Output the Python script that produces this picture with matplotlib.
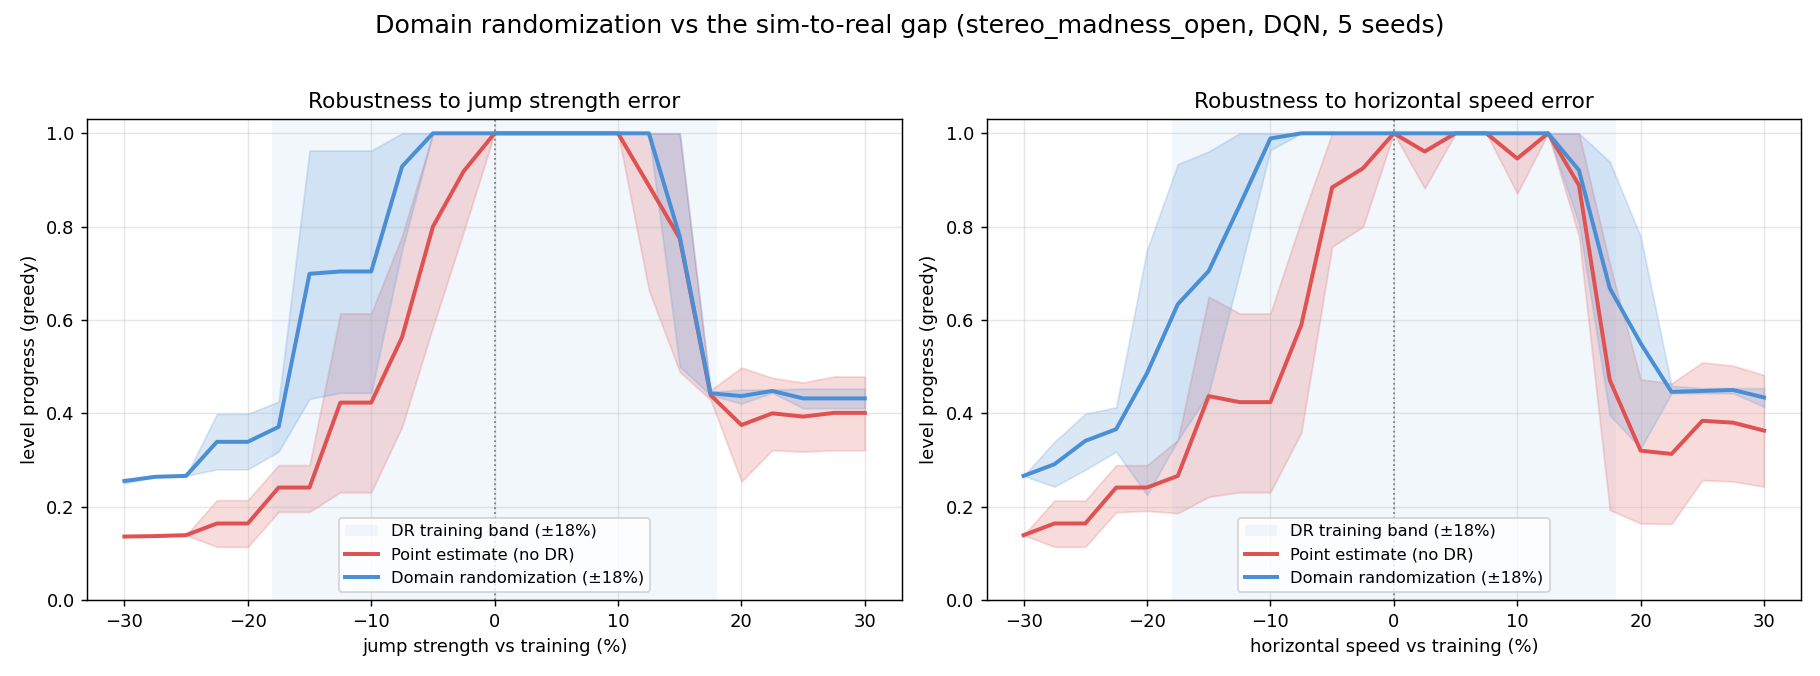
import matplotlib.pyplot as plt
import numpy as np

x = np.arange(-30, 30.1, 2.5)

# jump strength panel
jump_pt = [0.136, 0.137, 0.139, 0.164, 0.164, 0.241, 0.241, 0.423, 0.423, 0.563, 0.80, 0.919, 1.0,
           1.0, 1.0, 1.0, 1.0, 0.888, 0.775, 0.439, 0.375, 0.40, 0.393, 0.401, 0.401]
jump_pt_lo = [0.136, 0.137, 0.139, 0.114, 0.114, 0.189, 0.189, 0.231, 0.231, 0.371, 0.585, 0.79, 1.0,
              1.0, 1.0, 1.0, 1.0, 0.664, 0.489, 0.429, 0.254, 0.321, 0.318, 0.321, 0.321]
jump_pt_hi = [0.136, 0.137, 0.139, 0.214, 0.214, 0.289, 0.289, 0.614, 0.614, 0.78, 1.0, 1.0, 1.0,
              1.0, 1.0, 1.0, 1.0, 1.0, 1.0, 0.45, 0.498, 0.476, 0.466, 0.479, 0.479]
jump_dr = [0.255, 0.264, 0.266, 0.339, 0.339, 0.371, 0.699, 0.704, 0.704, 0.929, 1.0, 1.0, 1.0,
           1.0, 1.0, 1.0, 1.0, 1.0, 0.779, 0.443, 0.437, 0.448, 0.432, 0.432, 0.432]
jump_dr_lo = [0.25, 0.264, 0.266, 0.28, 0.28, 0.318, 0.431, 0.444, 0.444, 0.75, 1.0, 1.0, 1.0,
              1.0, 1.0, 1.0, 1.0, 1.0, 0.50, 0.439, 0.421, 0.444, 0.411, 0.411, 0.411]
jump_dr_hi = [0.259, 0.264, 0.266, 0.399, 0.399, 0.425, 0.963, 0.963, 0.963, 1.0, 1.0, 1.0, 1.0,
              1.0, 1.0, 1.0, 1.0, 1.0, 1.0, 0.446, 0.451, 0.451, 0.453, 0.453, 0.453]

# horizontal speed panel
speed_pt = [0.139, 0.164, 0.164, 0.241, 0.241, 0.266, 0.437, 0.424, 0.424, 0.589, 0.884, 0.925, 1.0,
            0.961, 1.0, 1.0, 0.946, 1.0, 0.889, 0.471, 0.32, 0.313, 0.384, 0.38, 0.363]
speed_pt_lo = [0.139, 0.114, 0.114, 0.188, 0.191, 0.186, 0.221, 0.231, 0.231, 0.359, 0.757, 0.80, 1.0,
               0.882, 1.0, 1.0, 0.871, 1.0, 0.78, 0.193, 0.164, 0.163, 0.257, 0.254, 0.243]
speed_pt_hi = [0.139, 0.213, 0.213, 0.289, 0.289, 0.343, 0.65, 0.614, 0.614, 0.814, 1.0, 1.0, 1.0,
               1.0, 1.0, 1.0, 1.0, 1.0, 1.0, 0.72, 0.473, 0.464, 0.509, 0.502, 0.482]
speed_dr = [0.266, 0.291, 0.341, 0.366, 0.486, 0.634, 0.705, 0.845, 0.989, 1.0, 1.0, 1.0, 1.0,
            1.0, 1.0, 1.0, 1.0, 1.0, 0.921, 0.668, 0.55, 0.446, 0.448, 0.45, 0.434]
speed_dr_lo = [0.266, 0.243, 0.279, 0.318, 0.225, 0.343, 0.443, 0.70, 0.964, 1.0, 1.0, 1.0, 1.0,
               1.0, 1.0, 1.0, 1.0, 1.0, 0.807, 0.396, 0.325, 0.443, 0.443, 0.443, 0.414]
speed_dr_hi = [0.266, 0.339, 0.399, 0.413, 0.75, 0.934, 0.961, 1.0, 1.0, 1.0, 1.0, 1.0, 1.0,
               1.0, 1.0, 1.0, 1.0, 1.0, 1.0, 0.939, 0.779, 0.459, 0.454, 0.454, 0.454]

red = '#e05252'
blue = '#4a8fd6'
band = 18

panels = [
    ('Robustness to jump strength error', 'jump strength vs training (%)',
     jump_pt, jump_pt_lo, jump_pt_hi, jump_dr, jump_dr_lo, jump_dr_hi),
    ('Robustness to horizontal speed error', 'horizontal speed vs training (%)',
     speed_pt, speed_pt_lo, speed_pt_hi, speed_dr, speed_dr_lo, speed_dr_hi),
]

fig, axes = plt.subplots(1, 2, figsize=(14, 5.2), dpi=130)

for ax, (title, xlabel, pt, pt_lo, pt_hi, dr, dr_lo, dr_hi) in zip(axes, panels):
    ax.axvspan(-band, band, color=blue, alpha=0.07, lw=0, label=f'DR training band (±{band}%)')
    ax.fill_between(x, pt_lo, pt_hi, color=red, alpha=0.2)
    ax.fill_between(x, dr_lo, dr_hi, color=blue, alpha=0.2)
    ax.plot(x, pt, color=red, lw=2.2, label='Point estimate (no DR)')
    ax.plot(x, dr, color=blue, lw=2.2, label=f'Domain randomization (±{band}%)')
    ax.axvline(0, color='grey', ls=':', lw=1)
    ax.set_ylim(0, 1.03)
    ax.set_title(title, fontsize=12)
    ax.set_xlabel(xlabel)
    ax.set_ylabel('level progress (greedy)')
    ax.grid(True, alpha=0.3)
    ax.legend(loc='lower center', fontsize=9)

fig.suptitle('Domain randomization vs the sim-to-real gap (stereo_madness_open, DQN, 5 seeds)', fontsize=14)
plt.subplots_adjust(left=0.048, right=0.9896, bottom=0.1124, top=0.8235, wspace=0.104)
plt.savefig('out.png')
print("done")
